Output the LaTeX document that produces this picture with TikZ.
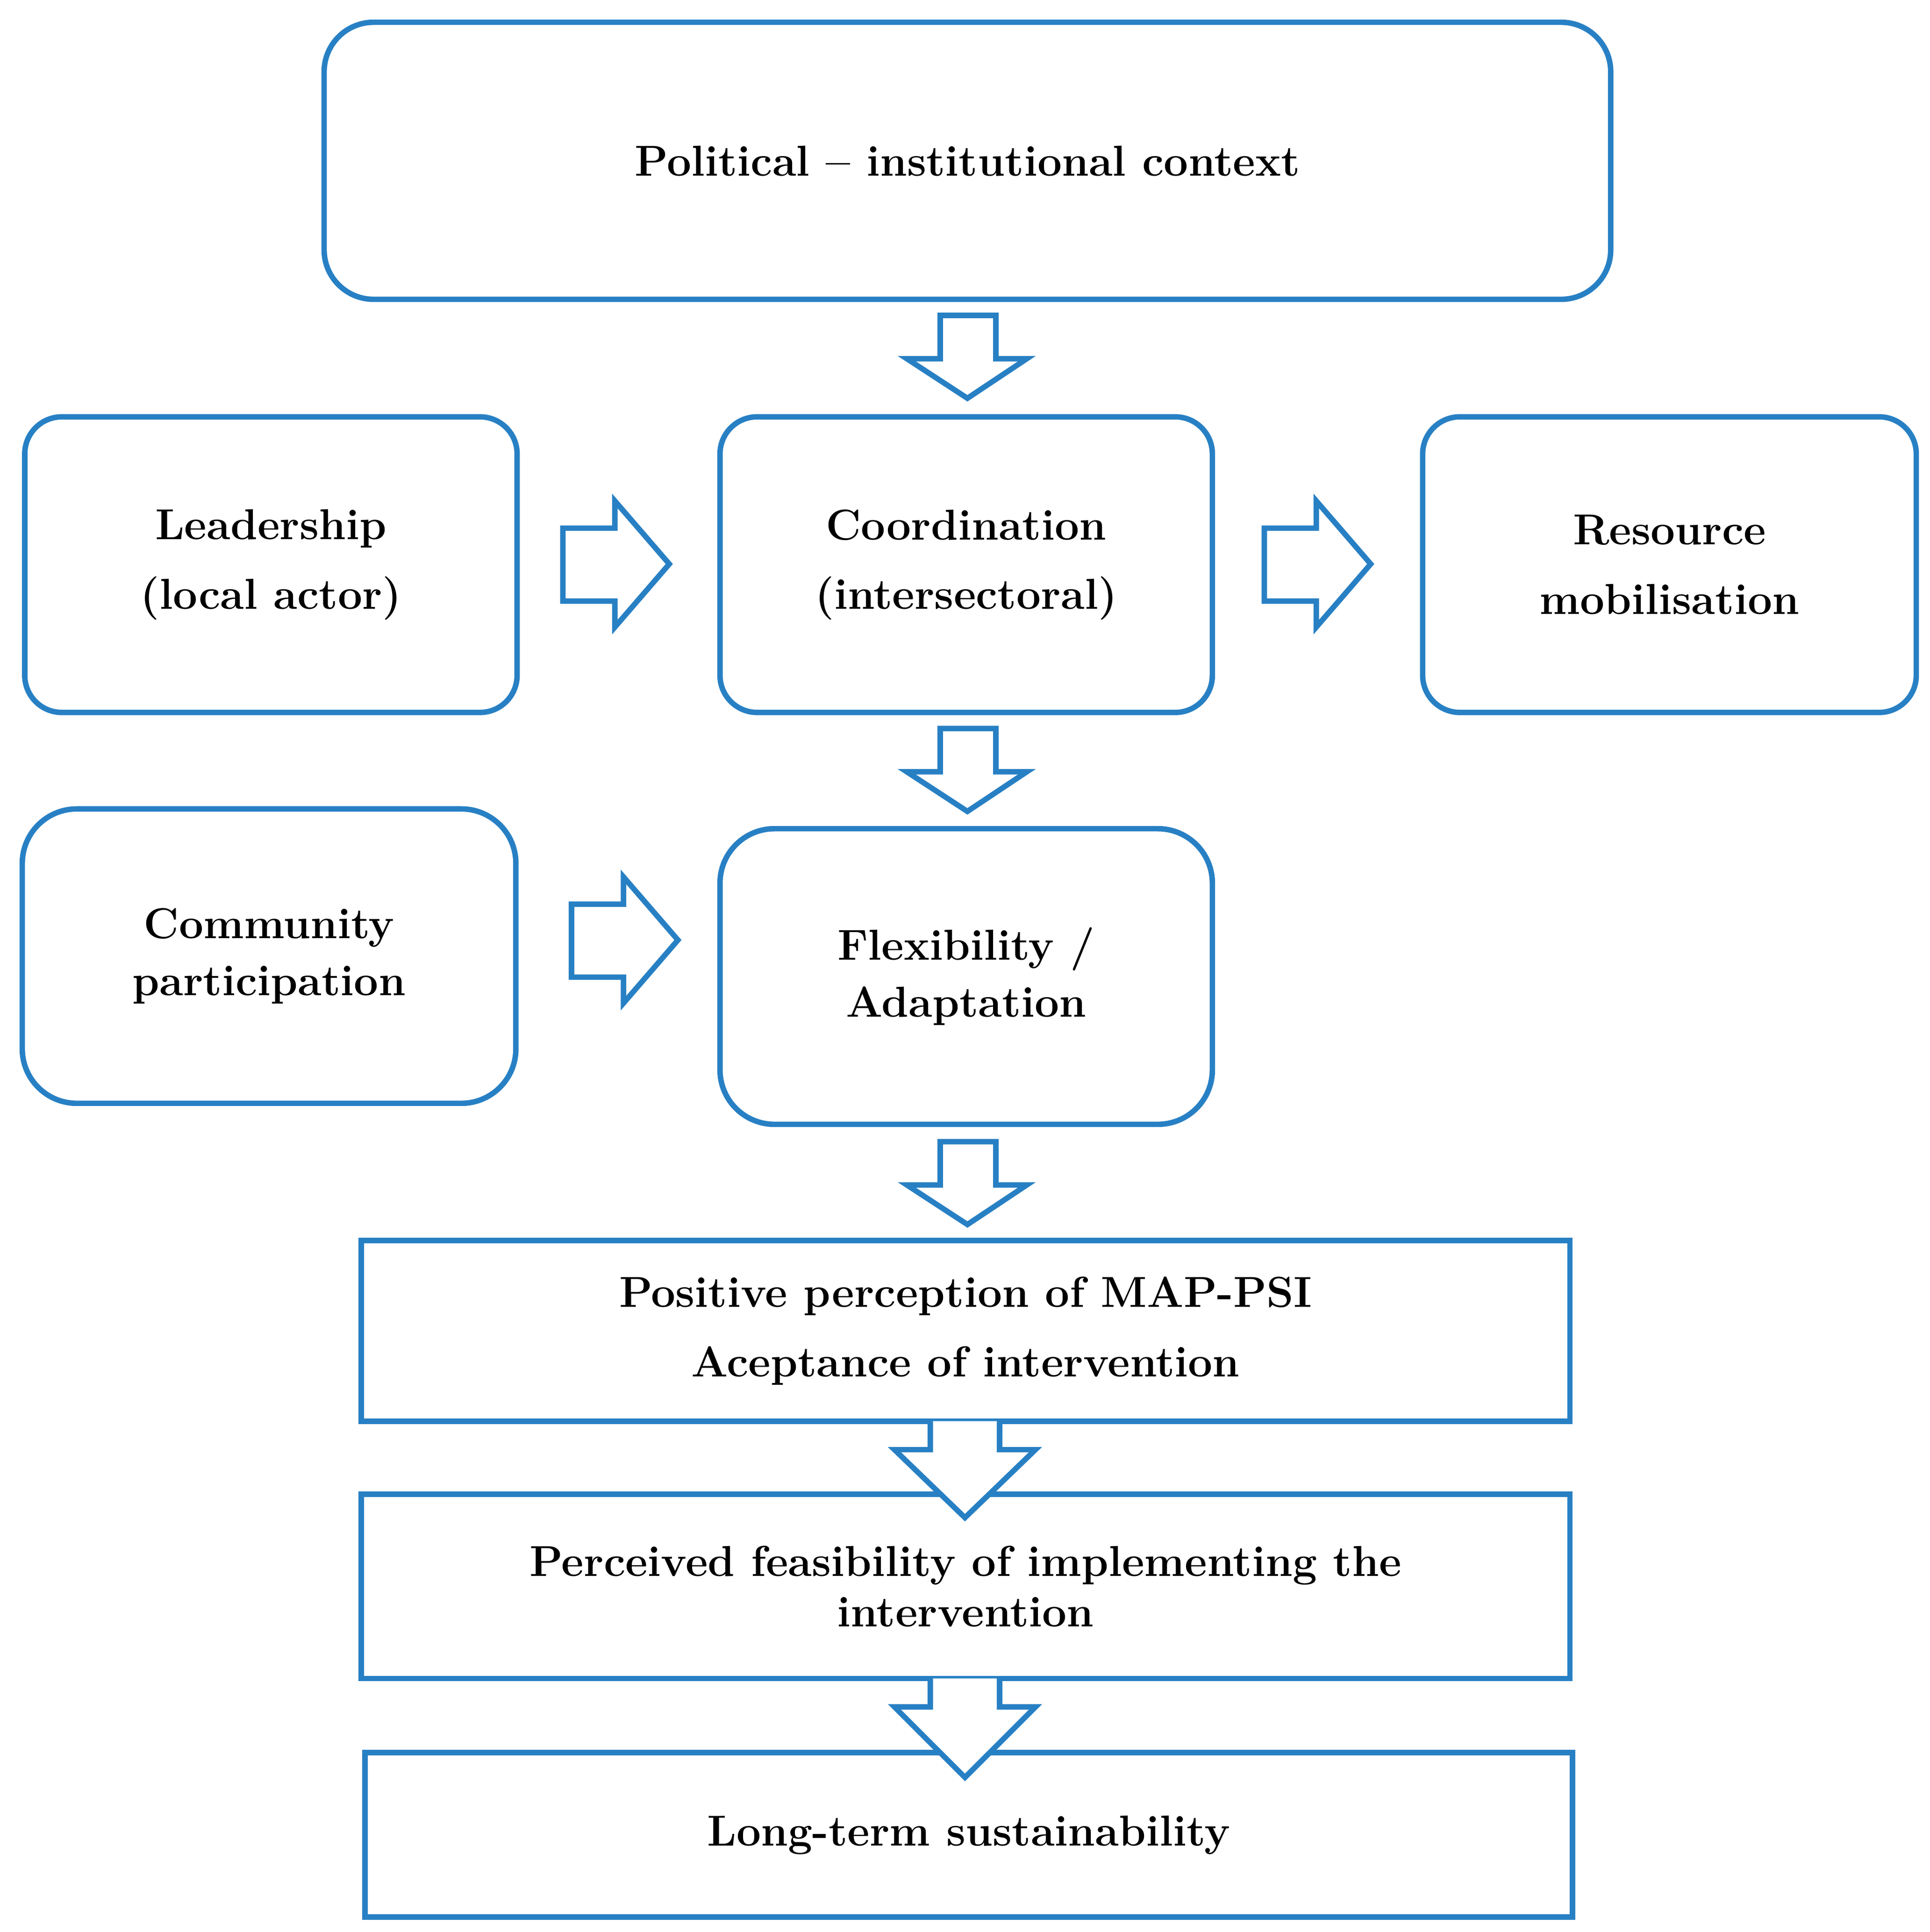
\documentclass[tikz,border=0pt]{standalone}
\usepackage{tikz}
\definecolor{mapblue}{RGB}{40,128,196}
\begin{document}
\begin{tikzpicture}[x=0.5pt,y=0.5pt,yscale=-1,xscale=1,
  box/.style={draw=mapblue,line width=2.2pt,fill=white,align=center,inner sep=0pt,
    font=\fontsize{17.5}{28}\selectfont\bfseries},
  arw/.style={draw=mapblue,line width=2.2pt,fill=white,line join=miter}]
\useasboundingbox (0,0) rectangle (1560,1562);

%Rounded boxes
\node (ctx) [box,rounded corners=20pt,minimum width=520pt,minimum height=112pt] at (782,130) {Political -- institutional context};
\node (lead) [box,rounded corners=15pt,minimum width=199pt,minimum height=119.5pt] at (219,456.5) {Leadership\\(local actor)};
\node (coord) [box,rounded corners=15pt,minimum width=199pt,minimum height=119.5pt] at (781,456.5) {Coordination\\(intersectoral)};
\node (res) [box,rounded corners=15pt,minimum width=199.5pt,minimum height=119.5pt] at (1349.5,456.5) {Resource\\mobilisation};
\node (comm) [box,rounded corners=22pt,minimum width=199.5pt,minimum height=119pt,font=\fontsize{17.5}{23}\selectfont\bfseries] at (217.5,773) {Community\\participation};
\node (flex) [box,rounded corners=22pt,minimum width=199pt,minimum height=119.5pt,font=\fontsize{17.5}{23}\selectfont\bfseries] at (781,789.5) {Flexibility /\\Adaptation};

%Plain boxes
\node (pos) [box,minimum width=488.5pt,minimum height=73pt] at (780.5,1076) {Positive perception of MAP-PSI\\Aceptance of intervention};
\node (feas) [box,minimum width=488.5pt,minimum height=74.5pt,font=\fontsize{17.5}{20.5}\selectfont\bfseries] at (780.5,1282.5) {Perceived feasibility of implementing the\\intervention};
\node (sust) [box,minimum width=488pt,minimum height=66.5pt] at (783,1483.5) {Long-term sustainability};

%Block arrows down
\foreach \t in {255,589,923}
  \draw [arw] (760,\t) -- (805,\t) -- (805,\t+35) -- (830,\t+35) -- (782,\t+67) -- (733,\t+35) -- (760,\t+35) -- cycle;

%Block arrows right
\foreach \l/\c in {455/456,1022/456,462/760}
  \draw [arw] (\l,\c-29) -- (\l+42,\c-29) -- (\l+42,\c-51) -- (\l+86,\c) -- (\l+42,\c+51) -- (\l+42,\c+30) -- (\l,\c+30) -- cycle;

%Open arrows between plain boxes
\foreach \t/\h/\e in {1149/1172/1227,1357/1380/1437} {
  \fill [white] (754,\t) -- (806,\t) -- (806,\h) -- (837,\h) -- (780,\e) -- (723,\h) -- (754,\h) -- cycle;
  \draw [arw,fill=none] (752,\t) -- (752,\h) -- (723,\h) -- (780,\e) -- (837,\h) -- (808,\h) -- (808,\t);
}
\end{tikzpicture}
\end{document}
